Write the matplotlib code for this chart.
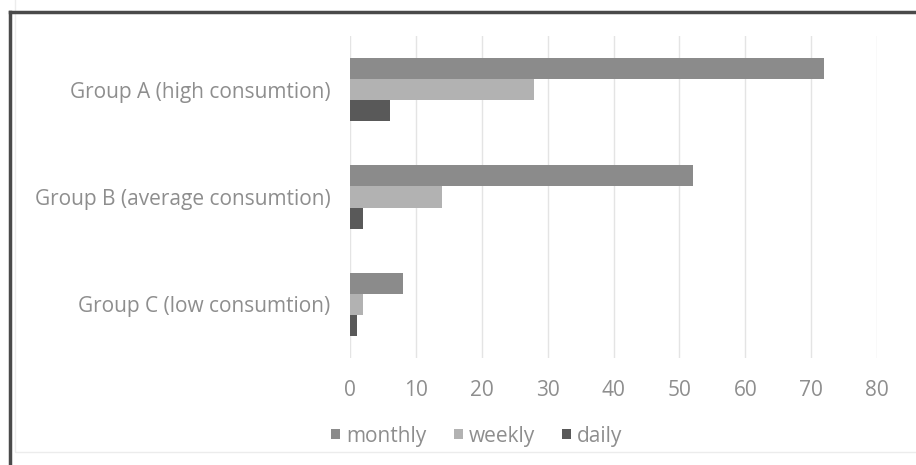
import matplotlib.pyplot as plt
from matplotlib.lines import Line2D
from matplotlib.patches import Rectangle
import numpy as np

# dane
groups = ['Group A (high consumtion)', 'Group B (average consumtion)', 'Group C (low consumtion)']
monthly = [72, 52, 8]
weekly = [28, 14, 2]
daily = [6, 2, 1]
xticks = [0, 10, 20, 30, 40, 50, 60, 70, 80]

plt.rcParams['font.family'] = ['Open Sans', 'DejaVu Sans']
txt = '#8e8e8e'
fs = 15

fig = plt.figure(figsize=(9.16, 4.65), dpi=100)
ax = fig.add_axes([350/916, 1 - 358/465, (877-350)/916, (358-36)/465])

y = np.arange(len(groups))
h = 0.197
ax.barh(y - h, monthly, height=h, color='#8b8b8b', label='monthly', zorder=3)
ax.barh(y, weekly, height=h, color='#b2b2b2', label='weekly', zorder=3)
ax.barh(y + h, daily, height=h, color='#595959', label='daily', zorder=3)

ax.set_xlim(0, 80)
ax.set_ylim(2.5, -0.5)
ax.set_xticks(xticks)
ax.set_yticks(y)
ax.set_yticklabels(groups)
ax.grid(axis='x', color='#e4e4e4', linewidth=1, zorder=0)
for s in ax.spines.values():
    s.set_visible(False)
ax.tick_params(axis='x', length=0, pad=16, labelsize=fs, labelcolor=txt)
ax.tick_params(axis='y', length=0, pad=14, labelsize=fs, labelcolor=txt)

fig.legend(loc='center', bbox_to_anchor=(477/916, 1 - 436/465), ncol=3, frameon=False,
           fontsize=fs, labelcolor=txt, handlelength=0.42, handleheight=0.42,
           handletextpad=0.3, columnspacing=1.3)

# ramka obrazka
fig.add_artist(Rectangle((15/916, 1 - 452/465), 2, 452/465 - 18/465 + 1,
                         transform=fig.transFigure, fill=False, edgecolor='#ececec', lw=1))
fig.add_artist(Line2D([10/916, 10/916], [0, 1 - 12/465], transform=fig.transFigure,
                      color='#4a4a4a', lw=2.5))
fig.add_artist(Line2D([10/916, 1], [1 - 12/465, 1 - 12/465], transform=fig.transFigure,
                      color='#4a4a4a', lw=2.5))

fig.savefig('out.png', dpi=100)
